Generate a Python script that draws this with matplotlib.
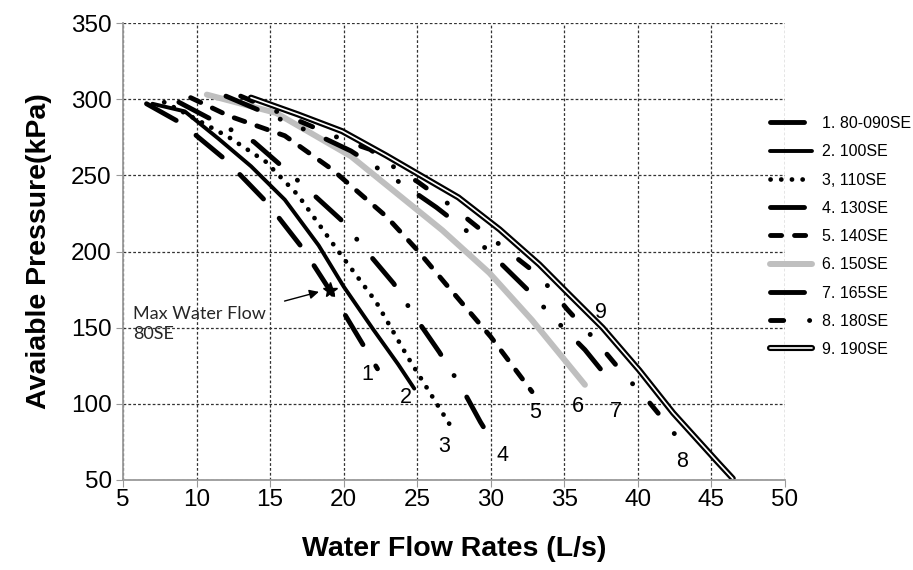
import matplotlib
matplotlib.use("Agg")
import matplotlib.pyplot as plt
import matplotlib.patheffects as pe

plt.rcParams["font.family"] = ["Liberation Sans", "DejaVu Sans"]
plt.rcParams["lines.scale_dashes"] = False

# data (flow L/s, pressure kPa)
x1 = [6.6, 9.0, 12.0, 14.8, 17.3, 19.5, 22.3]
y1 = [297, 284, 260, 232, 201, 168, 123]
x2 = [7.0, 9.2, 11.5, 13.7, 16.0, 18.3, 20.0, 22.0, 23.7, 24.8]
y2 = [297, 292, 274, 256, 234, 204, 177, 149, 126, 110]
x3 = [7.8, 9.0, 12.2, 14.7, 16.9, 19.5, 22.2, 24.4, 27.3]
y3 = [298, 292, 275, 259, 237, 202, 167, 130, 85]
x4 = [8.8, 13.9, 15.8, 18.1, 19.8, 21.7, 23.4, 25.0, 26.5, 28.0, 29.3, 30.0]
y4 = [298, 272, 256, 236, 221, 198.5, 179, 155, 134, 111, 88, 77]
x5 = [9.6, 12.2, 16.0, 19.2, 22.9, 25.0, 27.0, 30.0, 32.8]
y5 = [301, 289, 276, 254, 223, 201, 178, 144, 108]
x6 = [10.7, 15.4, 20.5, 26.7, 29.9, 32.8, 36.4]
y6 = [303, 291, 262.5, 214, 186, 155, 112.5]
x7 = [12.0, 18.1, 20.5, 21.7, 24.2, 26.3, 28.7, 32.6, 34.5, 36.4, 38.2]
y7 = [302, 277, 266, 258.5, 243, 229, 211, 174, 154, 135.5, 114]
x8 = [13.0, 20.3, 21.8, 23.9, 25.0, 27.3, 29.3, 33.3, 35.2, 37.0, 38.9, 40.6, 42.3, 43.0]
y8 = [302, 272, 267, 252, 246, 230, 214.5, 184, 162, 143, 121, 103, 83, 73]
x9 = [13.7, 16.9, 19.9, 22.9, 27.8, 30.6, 33.3, 35.0, 37.6, 40.1, 42.4, 45.4, 46.45]
y9 = [301, 290, 279, 263, 235.5, 214.5, 191.5, 175, 150, 122, 94, 62, 51]

labels = ["1. 80-090SE", "2. 100SE", "3, 110SE", "4. 130SE", "5. 140SE",
          "6. 150SE", "7. 165SE", "8. 180SE", "9. 190SE"]
curve_tags = ["1", "2", "3", "4", "5", "6", "7", "8", "9"]
tag_x = [21.6, 24.2, 26.8, 30.8, 33.0, 35.9, 38.5, 43.0, 37.5]
tag_y = [119, 104, 72, 66, 94, 98, 95, 62, 160]
max_flow = (19.1, 175)

fig = plt.figure(figsize=(9.13, 5.7), dpi=100)
ax = fig.add_axes([0.1347, 0.1579, 0.7251, 0.8017])

lw = 3.5
kw = dict(color="black", dash_capstyle="round", solid_capstyle="round")
ax.plot(x1, y1, lw=lw, dashes=(24.5, 17.9), label=labels[0], **kw)
ax.plot(x2, y2, lw=2.8, label=labels[1], **kw)
ax.plot(x3, y3, lw=3.4, dashes=(0.1, 7.6), label=labels[2], **kw)
ax.plot(x4, y4, lw=lw, dashes=(24.5, 17.9, 0.1, 17.9), label=labels[3], **kw)
ax.plot(x5, y5, lw=lw, dashes=(8.0, 9.3), label=labels[4], **kw)
ax.plot(x6, y6, lw=4.3, color="#bfbfbf", solid_capstyle="round", label=labels[5])
ax.plot(x7, y7, lw=lw, dashes=(24.5, 17.9, 0.1, 17.9, 0.1, 17.9), label=labels[6], **kw)
ax.plot(x8, y8, lw=lw, dashes=(9.5, 18.6, 0.1, 18.6), label=labels[7], **kw)
ax.plot(x9, y9, lw=1.2, color="white", solid_capstyle="round", label=labels[8],
        path_effects=[pe.Stroke(linewidth=4.4, foreground="black"), pe.Normal()])

for t, tx, ty in zip(curve_tags, tag_x, tag_y):
    ax.text(tx, ty, t, fontsize=15.5, ha="center", va="center")

# max water flow marker
ax.plot([max_flow[0]], [max_flow[1]], marker="*", markersize=11, color="black")
ax.annotate("", xy=(max_flow[0] - 0.6, max_flow[1] - 1), xytext=(15.8, 167),
            arrowprops=dict(arrowstyle="-|>", color="black", lw=1.0, mutation_scale=14))
ax.text(5.7, 164.5, "Max Water Flow\n80SE", fontsize=13, family="Lato",
        color="#262626", ha="left", va="top", linespacing=1.35)

ax.set_xlim(5, 50)
ax.set_ylim(50, 350)
ax.set_xticks(range(5, 51, 5))
ax.set_yticks(range(50, 351, 50))
ax.grid(True, color="#333333", linestyle=(0, (2, 1.5)), linewidth=0.9)
for s in ["top", "right"]:
    ax.spines[s].set_visible(False)
for s in ["left", "bottom"]:
    ax.spines[s].set_color("#9a9a9a")
    ax.spines[s].set_linewidth(1.3)
ax.tick_params(direction="out", length=5, color="#9a9a9a", labelsize=17.5)
ax.tick_params(axis="x", pad=1.5)
ax.tick_params(axis="y", pad=3)
ax.set_xlabel("Water Flow Rates (L/s)", fontsize=20.5, fontweight="bold", labelpad=18)
ax.set_ylabel("Avaiable Pressure(kPa)", fontsize=20.5, fontweight="bold", labelpad=14)

fig.legend(loc="upper left", bbox_to_anchor=(770 / 913, 1 - 116 / 570), frameon=False,
           fontsize=11.5, handlelength=2.63, handletextpad=0.6, labelspacing=0.83,
           borderpad=0, borderaxespad=0)

fig.savefig("out.png", dpi=100)
